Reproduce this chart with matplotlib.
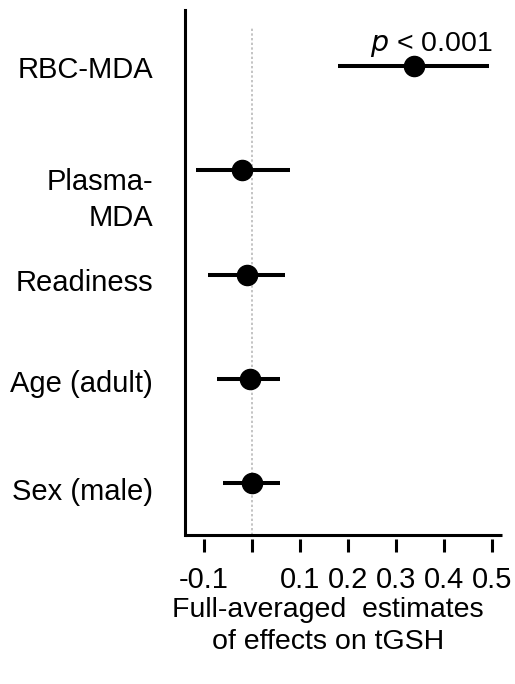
import matplotlib
matplotlib.use('Agg')
import matplotlib.pyplot as plt
import matplotlib.transforms as mtransforms

# forest plot of model-averaged estimates
labels = ['RBC-MDA', 'Plasma-\nMDA', 'Readiness', 'Age (adult)', 'Sex (male)']
est = [0.336, -0.021, -0.009, -0.004, 0.001]
lo = [0.180, -0.116, -0.090, -0.072, -0.060]
hi = [0.492, 0.080, 0.069, 0.059, 0.059]
xticks = [-0.1, 0, 0.1, 0.2, 0.3, 0.4, 0.5]
xticklabels = ['-0.1', '', '0.1', '0.2', '0.3', '0.4', '0.5']
pos = [5, 4, 3, 2, 1]

plt.rcParams['font.family'] = ['Liberation Sans', 'DejaVu Sans']

fig = plt.figure(figsize=(5.15, 6.84), dpi=100)
ax = fig.add_axes([0.359, 0.218, 0.616, 0.767])

xmin, xmax = -0.1387, 0.52
ymin, ymax = 0.505, 5.534
ax.set_xlim(xmin, xmax)
ax.set_ylim(ymin, ymax)

# reference line at zero
ax.plot([0, 0], [ymin, 5.37], ls=(0, (1.2, 1.2)), color='#c4c4c4', lw=1.4, zorder=1)

for e, l, h, y in zip(est, lo, hi, pos):
    ax.plot([l, h], [y, y], color='black', lw=2.9, solid_capstyle='butt', zorder=2)
    ax.plot(e, y, 'o', color='black', ms=14.5, zorder=3)

ax.text(0.4996, 5.144, r'$\it{p}$ < 0.001', ha='right', va='baseline', fontsize=20.5)

# y labels as text, baseline a bit below each point
trans = mtransforms.blended_transform_factory(ax.transAxes, ax.transData)
shift = [0.111, 0.536, 0.159, 0.128, 0.160]
for lab, y, s in zip(labels, pos, shift):
    ax.text(-0.101, y - s, lab, transform=trans, ha='right', va='baseline',
            multialignment='right', fontsize=21, linespacing=1.39)
ax.set_yticks([])

ax.set_xticks(xticks)
ax.set_xticklabels(xticklabels)
ax.tick_params(axis='x', direction='out', length=9.5, width=2.2, pad=10,
               labelsize=21)

for s in ['top', 'right']:
    ax.spines[s].set_visible(False)
ax.spines['left'].set_linewidth(2.2)
ax.spines['bottom'].set_position(('outward', 3))
ax.spines['bottom'].set_color('none')
ax.plot([xmin, xmax], [ymin, ymin], color='black', lw=2.2, clip_on=False,
        solid_capstyle='butt')

ax.set_xlabel('Full-averaged  estimates\nof effects on tGSH', fontsize=20.5,
              linespacing=1.3)
ax.xaxis.set_label_coords(0.451, -0.118)

fig.savefig('out.png', dpi=100)
